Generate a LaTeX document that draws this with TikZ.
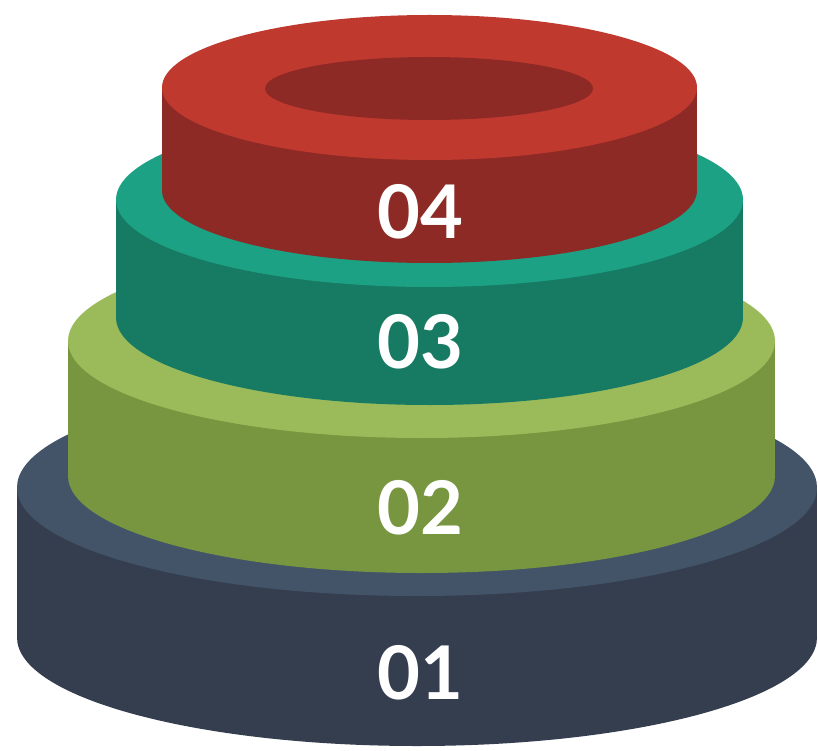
\documentclass[tikz,border=0pt]{standalone}
\usepackage{fontspec}
\setmainfont{Lato}
\definecolor{blueside}{HTML}{343E4F}
\definecolor{bluetop}{HTML}{435469}
\definecolor{greenside}{HTML}{78963F}
\definecolor{greentop}{HTML}{9BBB5B}
\definecolor{tealside}{HTML}{177A63}
\definecolor{tealtop}{HTML}{1DA184}
\definecolor{redside}{HTML}{8E2A25}
\definecolor{redtop}{HTML}{BF392F}
\newcommand\stackdisc[7]{%
  % #1 cx, #2 top cy, #3 bottom cy, #4 rx, #5 ry, #6 side colour, #7 top colour
  \fill[#6] (#1,#3) ellipse [x radius=#4pt, y radius=#5pt];
  \fill[#6] ({#1-#4},#2) rectangle ({#1+#4},#3);
  \fill[#7] (#1,#2) ellipse [x radius=#4pt, y radius=#5pt];
}
\tikzset{lbl/.style={text=white, font=\fontsize{74}{74}\selectfont\bfseries, inner sep=0pt}}
\begin{document}
\begin{tikzpicture}[x=1pt,y=-1pt]
\useasboundingbox (0,0) rectangle (818,751);
\stackdisc{417}{487.5}{637.5}{400}{108.5}{blueside}{bluetop}
\stackdisc{421.5}{341}{476}{353.5}{97}{greenside}{greentop}
\stackdisc{429.5}{199.6}{317.6}{313.5}{87.4}{tealside}{tealtop}
\stackdisc{429.5}{87.5}{190.5}{267.5}{72.5}{redside}{redtop}
\fill[redside] (429,88.5) ellipse [x radius=164pt, y radius=31.5pt];
\node[lbl] (l4) at (420,212) {04};
\node[lbl] (l3) at (420,342) {03};
\node[lbl] (l2) at (420,508) {02};
\node[lbl] (l1) at (420,673) {01};
\end{tikzpicture}
\end{document}
